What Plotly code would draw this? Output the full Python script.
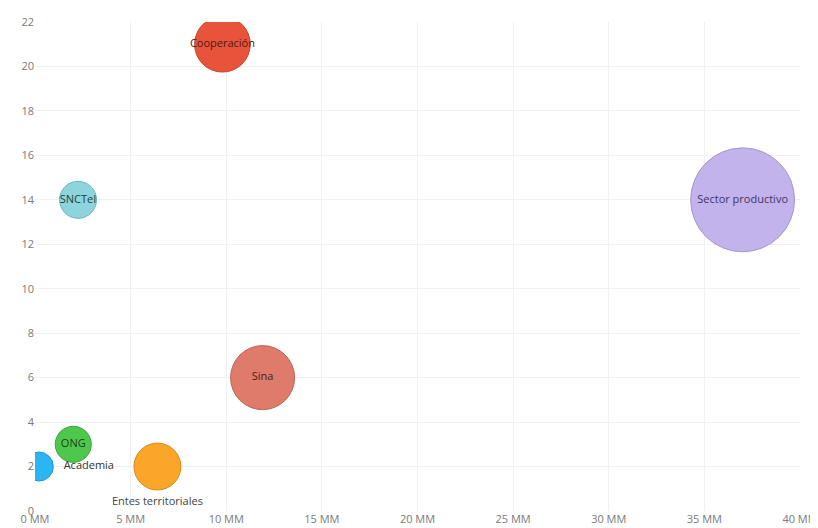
import plotly.graph_objects as go

# Data
actores = ["Cooperación", "SNCTeI", "Sector productivo", "Sina", "ONG", "Academia", "Entes territoriales"]
monto_mm = [9.8, 2.25, 37.0, 11.9, 2.0, 0.2, 6.4]          # x (millones)
proyectos = [21, 14, 14, 6, 3, 2, 2]                          # y
peso = [31, 13.7, 108, 41, 13, 8.4, 22]                       # bubble value
x_tickvals = [0, 5, 10, 15, 20, 25, 30, 35, 40]
x_ticktext = ["0 MM", "5 MM", "10 MM", "15 MM", "20 MM", "25 MM", "30 MM", "35 MM", "40 MM"]

colores = ["#E8543B", "#8ED4DC", "#C2B3EC", "#DE7B6B", "#4DC84D", "#2BB5F2", "#FBA628"]
bordes = ["#C9432D", "#6FB5BE", "#A597D0", "#BF6354", "#3AA43A", "#1E95CC", "#D88A16"]
color_texto = ["#4a1a10", "#1f3f44", "#3e3566", "#4a2019", "#1d3f1d", "#333333", "#444444"]
posiciones = ["middle center", "middle center", "middle center", "middle center",
              "middle center", "middle right", "bottom center"]
textos = [a if a != "Academia" else "  Academia" for a in actores]

fig = go.Figure()
fig.add_trace(go.Scatter(
    x=monto_mm, y=proyectos,
    mode="markers+text",
    text=textos,
    textposition=posiciones,
    textfont=dict(family="Open Sans, Noto Sans, sans-serif", size=11, color=color_texto),
    marker=dict(size=peso, sizemode="area", sizeref=0.02,
                color=colores, opacity=1,
                line=dict(color=bordes, width=1)),
    cliponaxis=True,
    hoverinfo="text",
    showlegend=False,
))

fig.update_layout(
    width=810, height=520,
    margin=dict(l=27, r=18, t=14, b=17),
    paper_bgcolor="white", plot_bgcolor="white",
    font=dict(family="Open Sans, Noto Sans, sans-serif", size=11, color="#808080"),
)
fig.update_xaxes(range=[0, 40], tickvals=x_tickvals, ticktext=x_ticktext,
                 showgrid=True, gridcolor="#F1F1F1", zeroline=False,
                 showline=False, ticks="", automargin=False,
                 tickfont=dict(size=11, color="#7a7a7a"))
fig.update_yaxes(range=[0, 22], dtick=2, showgrid=True, gridcolor="#F1F1F1",
                 zeroline=False, showline=False, ticks="", automargin=False,
                 tickfont=dict(size=11, color="#7a7a7a"))

fig.write_html("out.html")
